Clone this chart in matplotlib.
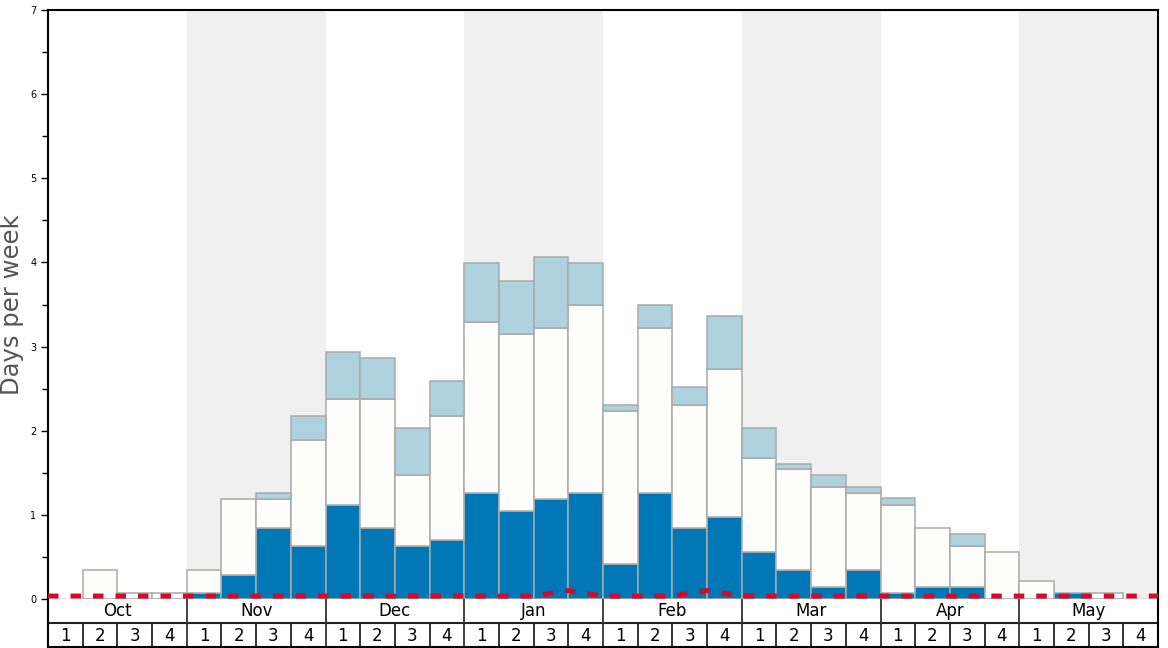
import numpy as np
import matplotlib
matplotlib.use('Agg')
import matplotlib.pyplot as plt

months = ['Oct', 'Nov', 'Dec', 'Jan', 'Feb', 'Mar', 'Apr', 'May']
week_labels = ['1', '2', '3', '4']

# cumulative tops of the three stacked layers, one value per week (Oct wk1 .. May wk4)
dark_top = [0, 0, 0, 0, 0.07, 0.28, 0.84, 0.63, 1.12, 0.84, 0.63, 0.70,
            1.26, 1.05, 1.19, 1.26, 0.42, 1.26, 0.84, 0.98, 0.56, 0.35, 0.14, 0.35,
            0.07, 0.14, 0.14, 0, 0, 0.07, 0, 0]
white_top = [0, 0.35, 0.07, 0.07, 0.35, 1.19, 1.19, 1.89, 2.38, 2.38, 1.47, 2.17,
             3.29, 3.15, 3.22, 3.50, 2.24, 3.22, 2.31, 2.73, 1.68, 1.54, 1.33, 1.26,
             1.12, 0.84, 0.63, 0.56, 0.21, 0.07, 0.07, 0]
light_top = [0, 0.35, 0.07, 0.07, 0.35, 1.19, 1.26, 2.17, 2.94, 2.87, 2.03, 2.59,
             3.99, 3.78, 4.06, 3.99, 2.31, 3.50, 2.52, 3.36, 2.03, 1.61, 1.47, 1.33,
             1.20, 0.84, 0.77, 0.56, 0.21, 0.07, 0.07, 0]
# red dashed line, values at the start of each week plus the end of May
red_line = [0.035] * 15 + [0.10] + [0.035] * 3 + [0.10] + [0.035] * 13

DARK = '#0077b6'
LIGHT = '#aed3df'
WHITE = '#fdfdfb'
EDGE = '#aaaaaa'
RED = '#d50a28'

W, H = 1168, 648
fig = plt.figure(figsize=(W / 100, H / 100), dpi=100)
ax = fig.add_axes([48 / W, 1 - 599 / H, 1110 / W, 589 / H])
tab = fig.add_axes([48 / W, 1 / H, 1110 / W, 48 / H])

n = len(dark_top)
x = np.arange(n)

# alternating month shading
for m in range(len(months)):
    if m % 2 == 1:
        ax.axvspan(m * 4, m * 4 + 4, color='#f0f0f0', lw=0, zorder=0)

dark = np.array(dark_top)
white = np.array(white_top)
light = np.array(light_top)

def stack(bottom, top, color):
    h = top - bottom
    keep = h > 0
    ax.bar(x[keep], h[keep], bottom=bottom[keep], width=1, align='edge',
           color=color, edgecolor=EDGE, linewidth=1.1, zorder=2)

stack(np.zeros(n), dark, DARK)
stack(dark, white, WHITE)
stack(white, light, LIGHT)

ax.plot(np.arange(n + 1), red_line, color=RED, lw=3.6,
        linestyle=(0, (2.1, 2.4)), zorder=3)

ax.set_xlim(0, n)
ax.set_ylim(0, 7)
ax.set_yticks(range(8))
ax.set_yticks(np.arange(0.5, 7, 1), minor=True)
ax.tick_params(axis='y', which='major', labelsize=7, length=5, width=1)
ax.tick_params(axis='y', which='minor', length=4, width=1)
ax.tick_params(axis='x', bottom=False, labelbottom=False)
for s in ['left', 'top', 'right']:
    ax.spines[s].set_linewidth(1.5)
    ax.spines[s].set_color('black')
ax.spines['bottom'].set_color('#999999')
ax.spines['bottom'].set_linewidth(1)

fig.text(12 / W, 1 - 305 / H, 'Days per week', rotation=90, ha='center',
         va='center', fontsize=17.5, color='#555555')

# month / week table under the plot
tab.set_xlim(0, n)
tab.set_ylim(0, 2)
tab.set_xticks([])
tab.set_yticks([])
tab.spines['top'].set_visible(False)
for s in ['left', 'right', 'bottom']:
    tab.spines[s].set_linewidth(1.5)
    tab.spines[s].set_color('black')
tab.axhline(1, color='#222222', lw=1.5)
for m, name in enumerate(months):
    if m > 0:
        tab.plot([m * 4, m * 4], [0, 2], color='#333333', lw=1.3)
    tab.text(m * 4 + 2, 1.5, name, ha='center', va='center', fontsize=12)
    for k, wl in enumerate(week_labels):
        i = m * 4 + k
        if k > 0:
            tab.plot([i, i], [0, 1], color='#222222', lw=1.3)
        tab.text(i + 0.5, 0.47, wl, ha='center', va='center', fontsize=12)

fig.savefig('out.png', dpi=100)
plt.close(fig)
